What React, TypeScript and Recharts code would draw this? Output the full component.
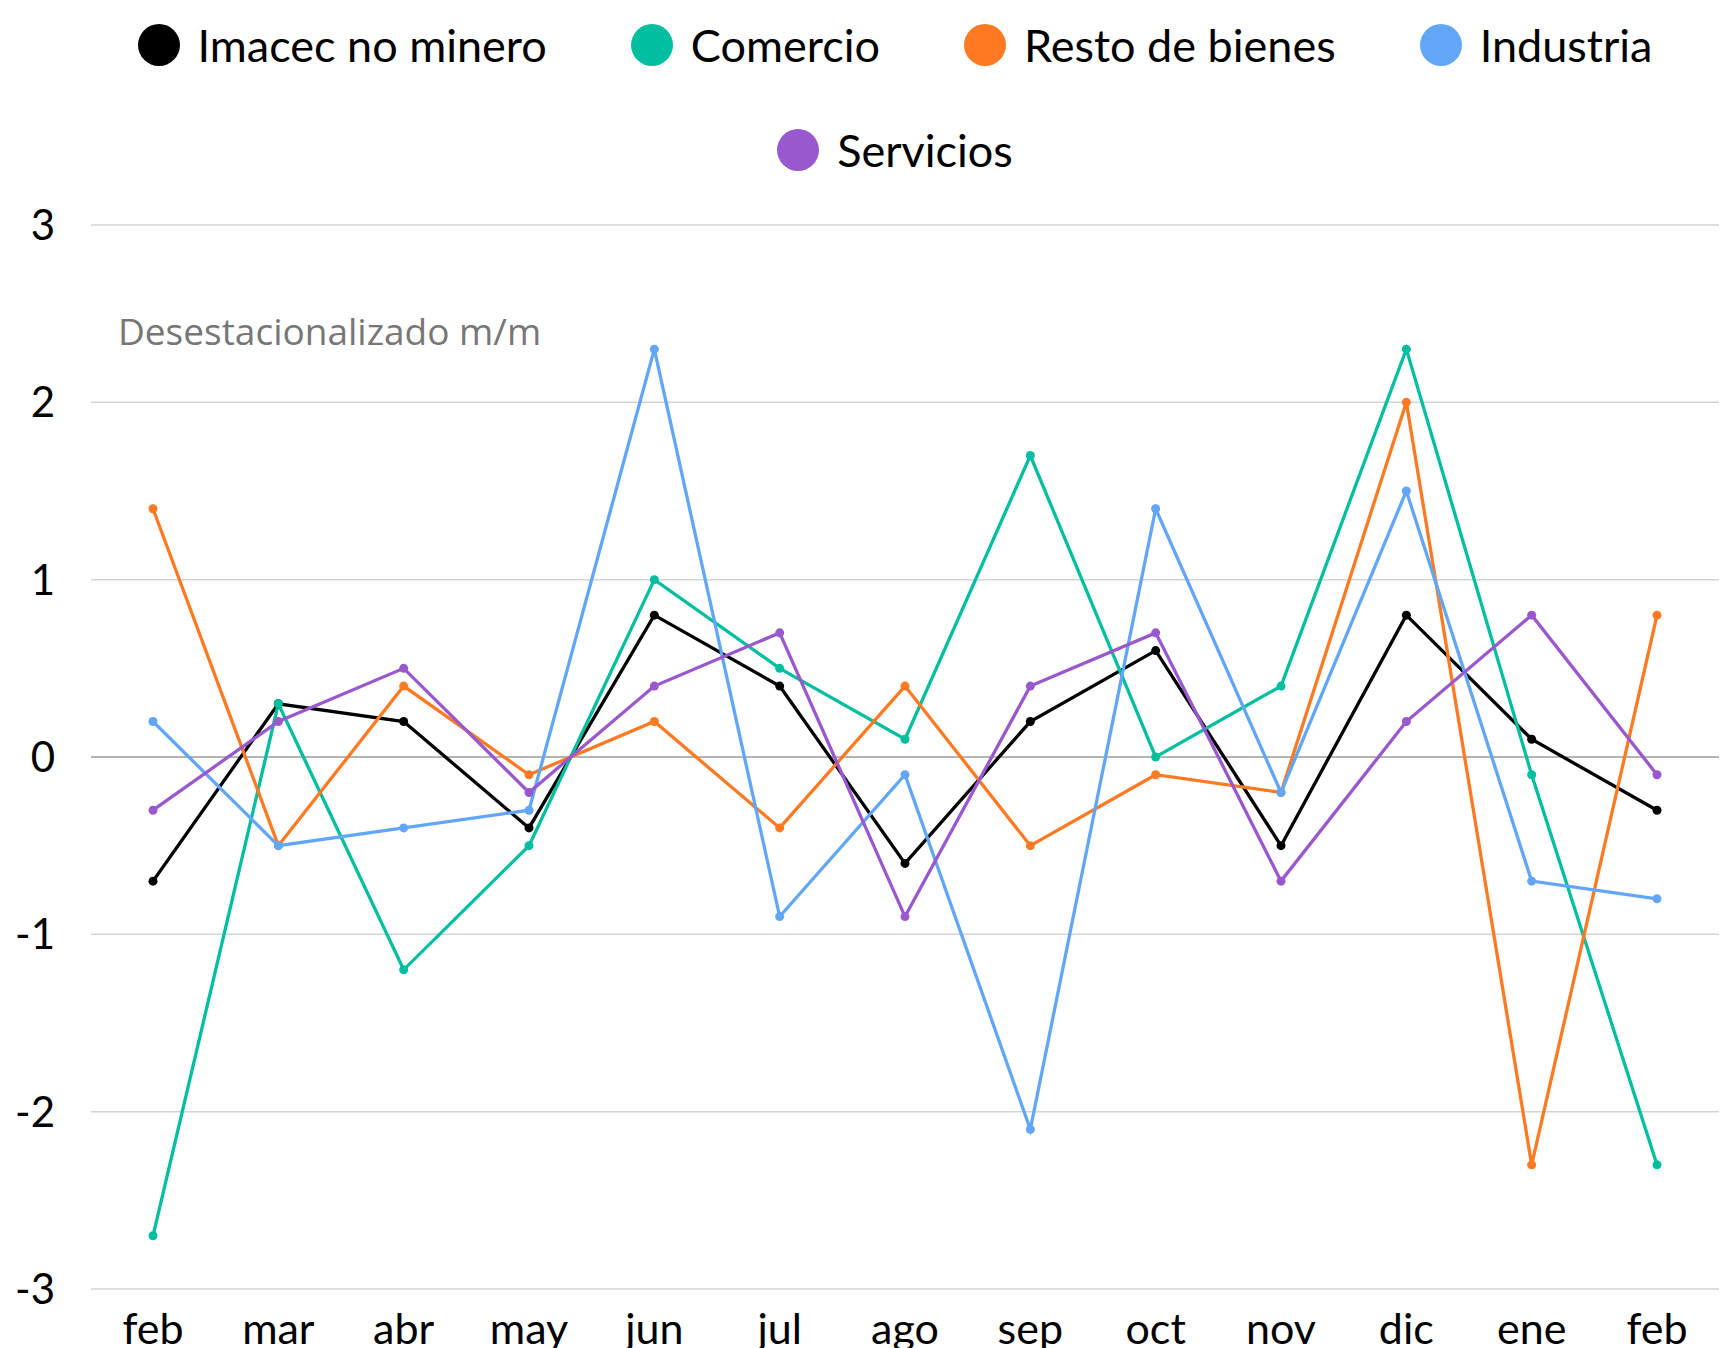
import React from "react";
import {
  ComposedChart,
  Line,
  XAxis,
  YAxis,
  CartesianGrid,
  Legend,
  ReferenceLine,
  Label,
} from "recharts";

const months = ["feb", "mar", "abr", "may", "jun", "jul", "ago", "sep", "oct", "nov", "dic", "ene", "feb"];
const imacecNoMinero = [-0.7, 0.3, 0.2, -0.4, 0.8, 0.4, -0.6, 0.2, 0.6, -0.5, 0.8, 0.1, -0.3];
const comercio = [-2.7, 0.3, -1.2, -0.5, 1.0, 0.5, 0.1, 1.7, 0.0, 0.4, 2.3, -0.1, -2.3];
const restoDeBienes = [1.4, -0.5, 0.4, -0.1, 0.2, -0.4, 0.4, -0.5, -0.1, -0.2, 2.0, -2.3, 0.8];
const industria = [0.2, -0.5, -0.4, -0.3, 2.3, -0.9, -0.1, -2.1, 1.4, -0.2, 1.5, -0.7, -0.8];
const servicios = [-0.3, 0.2, 0.5, -0.2, 0.4, 0.7, -0.9, 0.4, 0.7, -0.7, 0.2, 0.8, -0.1];
const yTicks = [-3, -2, -1, 0, 1, 2, 3];
const annotation = "Desestacionalizado m/m";

const seriesDefs = [
  { key: "imacec", name: "Imacec no minero", color: "#000000", values: imacecNoMinero },
  { key: "comercio", name: "Comercio", color: "#00BFA0", values: comercio },
  { key: "resto", name: "Resto de bienes", color: "#FF7A22", values: restoDeBienes },
  { key: "industria", name: "Industria", color: "#62A6F8", values: industria },
  { key: "servicios", name: "Servicios", color: "#9A58CF", values: servicios },
];

const data = months.map((m, i) => {
  const row: Record<string, any> = { month: m, idx: i };
  seriesDefs.forEach((s) => {
    row[s.key] = s.values[i];
  });
  return row;
});

const FONT = "Lato, 'Noto Sans', sans-serif";

const renderLegend = () => (
  <div
    style={{
      width: 1620,
      marginLeft: 85,
      display: "flex",
      flexWrap: "wrap",
      justifyContent: "center",
      rowGap: 15,
      fontFamily: FONT,
      fontSize: 45,
      color: "#000",
    }}
  >
    {seriesDefs.map((s) => (
      <div
        key={s.key}
        style={{ display: "flex", alignItems: "center", height: 90, margin: "0 42px" }}
      >
        <span
          style={{
            display: "inline-block",
            width: 42,
            height: 42,
            borderRadius: "50%",
            background: s.color,
            marginRight: 18,
          }}
        />
        <span>{s.name}</span>
      </div>
    ))}
  </div>
);

export default function App() {
  return (
    <div style={{ position: "absolute", left: 0, top: 0, width: 1733, height: 1348, background: "#fff" }}>
      <ComposedChart
        width={1733}
        height={1348}
        data={data}
        margin={{ top: 25, right: 14, bottom: 0, left: 0 }}
      >
        <CartesianGrid vertical={false} stroke="#d4d4d4" strokeWidth={1.5} />
        <XAxis
          dataKey="idx"
          type="category"
          tickFormatter={(v: number) => months[v]}
          axisLine={false}
          tickLine={false}
          tickSize={0}
          tickMargin={24}
          height={59}
          interval={0}
          padding={{ left: 62, right: 62 }}
          tick={{ fontSize: 43, fill: "#000", fontFamily: FONT }}
        />
        <YAxis
          domain={[-3, 3]}
          ticks={yTicks}
          axisLine={false}
          tickLine={false}
          tickSize={0}
          tickMargin={36}
          width={91}
          interval={0}
          tick={{ fontSize: 42, fill: "#000", fontFamily: FONT }}
        />
        <Legend verticalAlign="top" height={200} wrapperStyle={{ top: 0, left: 0, width: 1733 }} content={renderLegend} />
        <ReferenceLine y={0} stroke="#8a8a8a" strokeWidth={1} />
        <ReferenceLine y={2.4} stroke="none">
          <Label
            value={annotation}
            position="insideLeft"
            offset={27}
            fill="#777"
            fontSize={37}
            fontFamily="'Open Sans', sans-serif"
          />
        </ReferenceLine>
        {seriesDefs.map((s) => (
          <Line
            key={s.key}
            type="linear"
            dataKey={s.key}
            name={s.name}
            stroke={s.color}
            strokeWidth={3.3}
            dot={{ r: 4.5, fill: s.color, stroke: s.color, strokeWidth: 0 }}
            activeDot={false}
            isAnimationActive={false}
          />
        ))}
      </ComposedChart>
    </div>
  );
}
